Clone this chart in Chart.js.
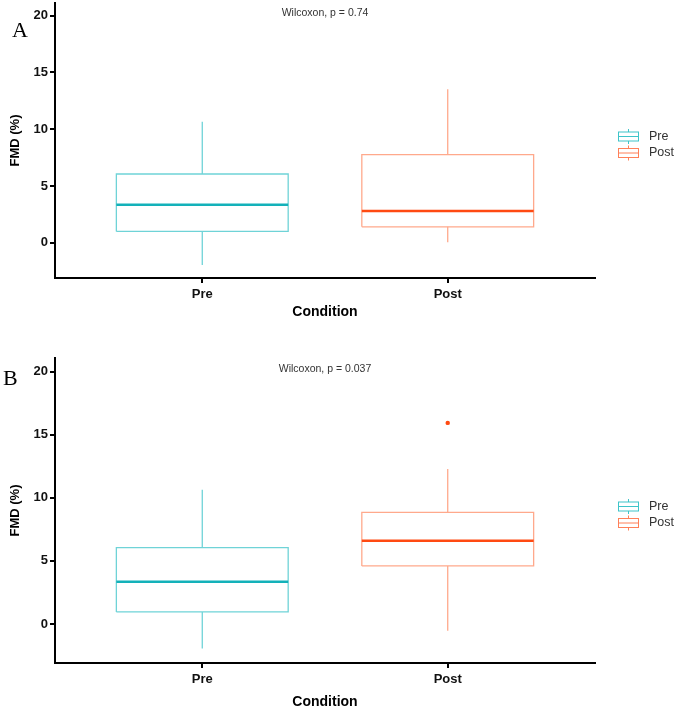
<!DOCTYPE html>
<html>
<head>
<meta charset="utf-8">
<script src="https://cdn.jsdelivr.net/npm/chart.js@4.4.0/dist/chart.umd.min.js"></script>
<style>
  body { margin: 0; background: #fff; width: 675px; height: 707px; overflow: hidden; position: relative; }
  .panel { position: absolute; left: 0; }
  .panel canvas { display: block; }
  .tag { position: absolute; font-family: 'Liberation Serif', 'Times New Roman', serif; font-size: 22px; line-height: 22px; color: #000; }
</style>
</head>
<body>
<div class="panel" style="top:0"><canvas id="chartA" width="675" height="335"></canvas></div>
<div class="panel" style="top:335px"><canvas id="chartB" width="675" height="372"></canvas></div>
<span class="tag" style="left:12px; top:19px;">A</span>
<span class="tag" style="left:3px; top:367px;">B</span>
<script>
const categories = ['Pre', 'Post'];
const yTicks = [0, 5, 10, 15, 20];

// panel A: box stats per condition
const aLow = [-1.95, 0.05];
const aQ1 = [1.0, 1.4];
const aMedian = [3.35, 2.8];
const aQ3 = [6.05, 7.75];
const aHigh = [10.65, 13.5];
const aOutliers = [[], []];
const aLabel = 'Wilcoxon, p = 0.74';

// panel B
const bLow = [-1.95, -0.55];
const bQ1 = [0.95, 4.6];
const bMedian = [3.35, 6.6];
const bQ3 = [6.05, 8.85];
const bHigh = [10.65, 12.3];
const bOutliers = [[], [15.95]];
const bLabel = 'Wilcoxon, p = 0.037';

const pLabelY = 20.2;
const boxHalf = 0.35;

const lineColors = ['#6fd3d7', '#ffa98c'];
const medianColors = ['#13b1b9', '#ff4a12'];
const keyColors = ['#3fc4c9', '#ff8059'];
const sans = '"Liberation Sans", Arial, sans-serif';

Chart.defaults.animation = false;

function seg(points, color, width, order) {
  return {
    data: points,
    showLine: true,
    borderColor: color,
    borderWidth: width,
    pointRadius: 0,
    tension: 0,
    order: order
  };
}

function boxDatasets(low, q1, med, q3, high, outliers) {
  const sets = [];
  categories.forEach((name, i) => {
    const x = i + 1, l = x - boxHalf, r = x + boxHalf;
    sets.push(seg([{x: l, y: q1[i]}, {x: r, y: q1[i]}, {x: r, y: q3[i]}, {x: l, y: q3[i]}, {x: l, y: q1[i]}], lineColors[i], 1.3, 1));
    sets.push(seg([{x: x, y: q3[i]}, {x: x, y: high[i]}], lineColors[i], 1.3, 1));
    sets.push(seg([{x: x, y: low[i]}, {x: x, y: q1[i]}], lineColors[i], 1.3, 1));
    sets.push(seg([{x: l, y: med[i]}, {x: r, y: med[i]}], medianColors[i], 2.5, 0));
    if (outliers[i].length) {
      sets.push({
        data: outliers[i].map(v => ({x: x, y: v})),
        showLine: false,
        pointRadius: 2.2,
        pointBackgroundColor: medianColors[i],
        pointBorderWidth: 0,
        order: 0
      });
    }
  });
  return sets;
}

const extras = {
  id: 'extras',
  afterDraw(chart, args, opts) {
    const {ctx, chartArea, scales: {x, y}} = chart;
    ctx.save();
    ctx.font = '10.5px ' + sans;
    ctx.fillStyle = '#333';
    ctx.textAlign = 'center';
    ctx.textBaseline = 'middle';
    ctx.fillText(opts.text, x.getPixelForValue(1.5), y.getPixelForValue(pLabelY));

    // legend with boxplot keys
    const cy = (chartArea.top + chartArea.bottom) / 2;
    const kx = chartArea.right + 23;
    categories.forEach((name, i) => {
      const ky = cy - 4 + i * 16.5;
      ctx.strokeStyle = keyColors[i];
      ctx.lineWidth = 1;
      ctx.strokeRect(kx + 0.5, ky - 4.5, 20, 9);
      ctx.beginPath();
      ctx.moveTo(kx + 10.5, ky - 7.5); ctx.lineTo(kx + 10.5, ky - 4.5);
      ctx.moveTo(kx + 10.5, ky + 4.5); ctx.lineTo(kx + 10.5, ky + 7.5);
      ctx.moveTo(kx + 0.5, ky); ctx.lineTo(kx + 20.5, ky);
      ctx.stroke();
      ctx.font = '12.5px ' + sans;
      ctx.fillStyle = '#333';
      ctx.textAlign = 'left';
      ctx.fillText(name, kx + 31, ky);
    });
    ctx.restore();
  }
};

function makeChart(id, sets, text, padTop, xHeight, titlePad) {
  const axisGrid = { display: true, drawOnChartArea: false, drawTicks: true, tickLength: 5, color: '#000', lineWidth: 2 };
  const axisBorder = { display: true, color: '#000', width: 2 };
  return new Chart(document.getElementById(id), {
    type: 'scatter',
    data: { datasets: sets },
    plugins: [extras],
    options: {
      responsive: false,
      layout: { padding: { top: padTop, right: 80, left: 0, bottom: 0 } },
      plugins: { legend: { display: false }, tooltip: { enabled: false }, extras: { text: text } },
      scales: {
        x: {
          type: 'linear', min: 0.4, max: 2.6,
          afterBuildTicks: s => { s.ticks = categories.map((c, i) => ({ value: i + 1 })); },
          afterFit: s => { s.height = xHeight; s.paddingLeft = 0; s.paddingRight = 0; },
          ticks: { callback: (v, i) => categories[i], autoSkip: false, maxRotation: 0, padding: 4,
                   color: '#111', font: { family: sans, size: 13, weight: 'bold' } },
          grid: axisGrid,
          border: axisBorder,
          title: { display: true, text: 'Condition', color: '#000',
                   font: { family: sans, size: 14, weight: 'bold', lineHeight: 1 },
                   padding: { top: 0, bottom: titlePad } }
        },
        y: {
          type: 'linear', min: -3.1, max: 21.1,
          afterBuildTicks: s => { s.ticks = yTicks.map(v => ({ value: v })); },
          afterFit: s => { s.width = 55; s.paddingTop = 0; s.paddingBottom = 0; },
          ticks: { padding: 2, color: '#111', font: { family: sans, size: 13, weight: 'bold' } },
          grid: axisGrid,
          border: axisBorder,
          title: { display: true, text: 'FMD (%)', color: '#000',
                   font: { family: sans, size: 13, weight: 'bold', lineHeight: 1 },
                   padding: { top: 9, bottom: 0 } }
        }
      }
    }
  });
}

makeChart('chartA', boxDatasets(aLow, aQ1, aMedian, aQ3, aHigh, aOutliers), aLabel, 3, 57, 16);
makeChart('chartB', boxDatasets(bLow, bQ1, bMedian, bQ3, bHigh, bOutliers), bLabel, 23, 44, -2);
</script>
</body>
</html>
